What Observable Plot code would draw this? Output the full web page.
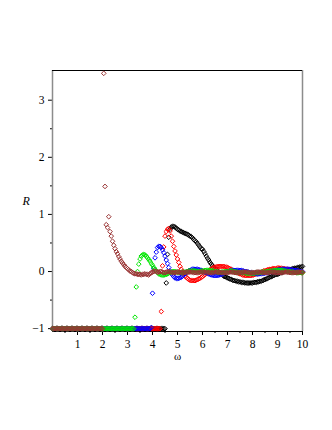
<!DOCTYPE html>
<html><head><meta charset="utf-8">
<script src="https://cdn.jsdelivr.net/npm/d3@7"></script>
<script src="https://cdn.jsdelivr.net/npm/@observablehq/plot@0.6"></script>
<style>body{margin:0;background:#fff}#chart{width:332px;height:430px}</style>
</head><body><div id="chart"></div>
<script>
const omega = [
0,0.05,0.1,0.15,0.2,0.25,0.3,0.35,0.4,0.45,
0.5,0.55,0.6,0.65,0.7,0.75,0.8,0.85,0.9,0.95,
1,1.05,1.1,1.15,1.2,1.25,1.3,1.35,1.4,1.45,
1.5,1.55,1.6,1.65,1.7,1.75,1.8,1.85,1.9,1.95,
2,2.05,2.1,2.15,2.2,2.25,2.3,2.35,2.4,2.45,
2.5,2.55,2.6,2.65,2.7,2.75,2.8,2.85,2.9,2.95,
3,3.05,3.1,3.15,3.2,3.25,3.3,3.35,3.4,3.45,
3.5,3.55,3.6,3.65,3.7,3.75,3.8,3.85,3.9,3.95,
4,4.05,4.1,4.15,4.2,4.25,4.3,4.35,4.4,4.45,
4.5,4.55,4.6,4.65,4.7,4.75,4.8,4.85,4.9,4.95,
5,5.05,5.1,5.15,5.2,5.25,5.3,5.35,5.4,5.45,
5.5,5.55,5.6,5.65,5.7,5.75,5.8,5.85,5.9,5.95,
6,6.05,6.1,6.15,6.2,6.25,6.3,6.35,6.4,6.45,
6.5,6.55,6.6,6.65,6.7,6.75,6.8,6.85,6.9,6.95,
7,7.05,7.1,7.15,7.2,7.25,7.3,7.35,7.4,7.45,
7.5,7.55,7.6,7.65,7.7,7.75,7.8,7.85,7.9,7.95,
8,8.05,8.1,8.15,8.2,8.25,8.3,8.35,8.4,8.45,
8.5,8.55,8.6,8.65,8.7,8.75,8.8,8.85,8.9,8.95,
9,9.05,9.1,9.15,9.2,9.25,9.3,9.35,9.4,9.45,
9.5,9.55,9.6,9.65,9.7,9.75,9.8,9.85,9.9,9.95,
10];

const rBrown = [
-1,-1,-1,-1,-1,-1,-1,-1,-1,-1,
-1,-1,-1,-1,-1,-1,-1,-1,-1,-1,
-1,-1,-1,-1,-1,-1,-1,-1,-1,-1,
-1,-1,-1,-1,-1,-1,-1,-1,-1,-1,
-1,3.47,1.49,0.82,0.77,0.96,0.70,0.62,0.53,0.46,
0.40,0.35,0.31,0.26,0.22,0.18,0.15,0.12,0.09,0.07,
0.05,0.03,0.01,0.00,-0.02,-0.03,-0.04,-0.04,-0.05,-0.05,
-0.05,-0.06,-0.05,-0.05,-0.04,-0.05,-0.05,-0.06,-0.04,-0.02,
-0.01,0.00,0.01,0.00,-0.01,-0.01,0.00,0.00,-0.01,-0.02,
-0.02,-0.01,0.00,0.00,-0.01,-0.01,-0.02,-0.02,-0.02,-0.01,
-0.01,-0.01,-0.01,-0.02,-0.02,-0.02,-0.02,-0.01,-0.01,-0.01,
-0.01,-0.01,-0.01,-0.02,-0.02,-0.02,-0.02,-0.02,-0.01,-0.01,
-0.01,-0.01,-0.01,-0.01,-0.02,-0.02,-0.02,-0.02,-0.02,-0.01,
-0.01,-0.01,-0.01,-0.01,-0.01,-0.02,-0.02,-0.02,-0.02,-0.02,
-0.02,-0.01,-0.01,-0.01,-0.01,-0.01,-0.02,-0.02,-0.02,-0.02,
-0.02,-0.02,-0.01,-0.01,-0.01,-0.01,-0.01,-0.02,-0.02,-0.02,
-0.02,-0.02,-0.02,-0.01,-0.01,-0.01,-0.01,-0.01,-0.02,-0.02,
-0.02,-0.02,-0.02,-0.02,-0.01,-0.01,-0.01,-0.01,-0.01,-0.02,
-0.02,-0.02,-0.02,-0.02,-0.02,-0.01,-0.01,-0.01,-0.01,-0.01,
-0.02,-0.02,-0.02,-0.02,-0.02,-0.02,-0.01,-0.01,-0.01,-0.01,
-0.01];

const rGreen = [
-1,-1,-1,-1,-1,-1,-1,-1,-1,-1,
-1,-1,-1,-1,-1,-1,-1,-1,-1,-1,
-1,-1,-1,-1,-1,-1,-1,-1,-1,-1,
-1,-1,-1,-1,-1,-1,-1,-1,-1,-1,
-1,-1,-1,-1,-1,-1,-1,-1,-1,-1,
-1,-1,-1,-1,-1,-1,-1,-1,-1,-1,
-1,-1,-1,-1,-1,-1,-0.80,-0.27,0.00,0.13,
0.22,0.27,0.29,0.30,0.29,0.27,0.24,0.21,0.18,0.14,
0.11,0.07,0.04,0.01,-0.02,-0.04,-0.05,-0.06,-0.06,-0.06,
-0.06,-0.05,-0.04,-0.03,-0.02,-0.01,0.00,0.00,0.00,-0.01,
-0.01,-0.02,-0.02,-0.02,-0.02,-0.01,-0.01,0.00,0.00,0.01,
0.01,0.01,0.01,0.01,0.01,0.01,0.00,0.00,0.00,0.01,
0.01,0.01,0.02,0.02,0.02,0.02,0.02,0.01,0.01,0.01,
0.00,0.00,-0.01,-0.01,-0.01,-0.01,-0.01,-0.01,0.00,0.00,
0.00,0.00,0.01,0.01,0.01,0.00,0.00,-0.01,-0.01,-0.02,
-0.02,-0.02,-0.02,-0.02,-0.02,-0.03,-0.03,-0.03,-0.03,-0.03,
-0.03,-0.03,-0.03,-0.02,-0.02,-0.02,-0.02,-0.01,-0.01,-0.01,
-0.01,0.00,0.00,0.00,0.01,0.01,0.01,0.01,0.02,0.02,
0.02,0.02,0.02,0.02,0.02,0.01,0.01,0.01,0.00,0.00,
0.00,-0.01,-0.01,-0.01,-0.02,-0.02,-0.02,-0.02,-0.02,-0.02,
-0.02];

const rBlue = [
-1,-1,-1,-1,-1,-1,-1,-1,-1,-1,
-1,-1,-1,-1,-1,-1,-1,-1,-1,-1,
-1,-1,-1,-1,-1,-1,-1,-1,-1,-1,
-1,-1,-1,-1,-1,-1,-1,-1,-1,-1,
-1,-1,-1,-1,-1,-1,-1,-1,-1,-1,
-1,-1,-1,-1,-1,-1,-1,-1,-1,-1,
-1,-1,-1,-1,-1,-1,-1,-1,-1,-1,
-1,-1,-1,-1,-1,-1,-1,-1,-1,-0.98,
-0.38,0.05,0.24,0.34,0.42,0.44,0.44,0.42,0.38,0.33,
0.27,0.20,0.14,0.07,0.01,-0.03,-0.06,-0.09,-0.11,-0.12,
-0.12,-0.12,-0.11,-0.10,-0.08,-0.06,-0.04,-0.02,0.00,0.01,
0.02,0.03,0.04,0.04,0.04,0.04,0.04,0.03,0.03,0.02,
0.01,0.00,-0.01,-0.02,-0.03,-0.04,-0.05,-0.06,-0.06,-0.07,
-0.07,-0.07,-0.07,-0.06,-0.06,-0.05,-0.04,-0.03,-0.02,-0.01,
0.00,0.00,0.01,0.01,0.02,0.02,0.02,0.02,0.02,0.02,
0.02,0.02,0.01,0.01,0.00,0.00,-0.01,-0.01,-0.02,-0.02,
-0.03,-0.03,-0.03,-0.04,-0.04,-0.04,-0.04,-0.04,-0.03,-0.03,
-0.03,-0.02,-0.02,-0.01,-0.01,0.00,0.00,0.01,0.01,0.02,
0.02,0.03,0.03,0.03,0.04,0.04,0.04,0.04,0.04,0.04,
0.03,0.03,0.03,0.02,0.02,0.02,0.01,0.01,0.00,0.00,
0.00];

const rRed = [
-1,-1,-1,-1,-1,-1,-1,-1,-1,-1,
-1,-1,-1,-1,-1,-1,-1,-1,-1,-1,
-1,-1,-1,-1,-1,-1,-1,-1,-1,-1,
-1,-1,-1,-1,-1,-1,-1,-1,-1,-1,
-1,-1,-1,-1,-1,-1,-1,-1,-1,-1,
-1,-1,-1,-1,-1,-1,-1,-1,-1,-1,
-1,-1,-1,-1,-1,-1,-1,-1,-1,-1,
-1,-1,-1,-1,-1,-1,-1,-1,-1,-1,
-1,-1,-1,-1,-1,-1,-1,-0.70,0.10,0.43,
0.62,0.70,0.74,0.75,0.71,0.62,0.53,0.44,0.36,0.29,
0.22,0.16,0.09,0.04,0.00,-0.04,-0.08,-0.10,-0.12,-0.14,
-0.15,-0.16,-0.16,-0.16,-0.16,-0.15,-0.14,-0.13,-0.12,-0.10,
-0.09,-0.07,-0.05,-0.03,-0.01,0.01,0.03,0.04,0.06,0.07,
0.08,0.08,0.09,0.09,0.09,0.09,0.09,0.09,0.08,0.08,
0.07,0.06,0.05,0.04,0.02,0.01,0.00,-0.01,-0.02,-0.03,
-0.04,-0.05,-0.06,-0.06,-0.07,-0.07,-0.07,-0.07,-0.07,-0.07,
-0.06,-0.06,-0.05,-0.04,-0.04,-0.03,-0.02,-0.01,0.00,0.01,
0.01,0.02,0.03,0.03,0.04,0.04,0.05,0.05,0.05,0.05,
0.06,0.06,0.06,0.06,0.05,0.05,0.05,0.04,0.04,0.03,
0.03,0.02,0.02,0.01,0.00,0.00,-0.01,-0.01,-0.02,-0.02,
-0.02];

const rBlack = [
-1,-1,-1,-1,-1,-1,-1,-1,-1,-1,
-1,-1,-1,-1,-1,-1,-1,-1,-1,-1,
-1,-1,-1,-1,-1,-1,-1,-1,-1,-1,
-1,-1,-1,-1,-1,-1,-1,-1,-1,-1,
-1,-1,-1,-1,-1,-1,-1,-1,-1,-1,
-1,-1,-1,-1,-1,-1,-1,-1,-1,-1,
-1,-1,-1,-1,-1,-1,-1,-1,-1,-1,
-1,-1,-1,-1,-1,-1,-1,-1,-1,-1,
-1,-1,-1,-1,-1,-1,-1,-1,-1,-1,
-1,-0.20,0.30,0.60,0.74,0.78,0.79,0.79,0.78,0.76,
0.74,0.73,0.71,0.70,0.69,0.68,0.67,0.66,0.65,0.64,
0.62,0.61,0.59,0.56,0.54,0.52,0.49,0.46,0.43,0.40,
0.39,0.35,0.31,0.27,0.23,0.20,0.16,0.13,0.10,0.07,
0.05,0.03,0.01,-0.01,-0.03,-0.05,-0.06,-0.08,-0.09,-0.10,
-0.11,-0.12,-0.13,-0.14,-0.15,-0.16,-0.16,-0.17,-0.17,-0.18,
-0.18,-0.19,-0.19,-0.19,-0.20,-0.20,-0.20,-0.20,-0.20,-0.20,
-0.20,-0.19,-0.19,-0.19,-0.18,-0.18,-0.17,-0.17,-0.16,-0.15,
-0.14,-0.13,-0.12,-0.11,-0.10,-0.09,-0.08,-0.07,-0.06,-0.05,
-0.05,-0.04,-0.03,-0.02,-0.01,0.00,0.01,0.02,0.02,0.03,
0.04,0.04,0.05,0.05,0.06,0.06,0.07,0.07,0.08,0.08,
0.09];

const seriesNames = ["s1","s2","s3","s4","s5"];
const seriesColors = ["#000000","#ff0000","#0000ff","#00e600","#993333"];
const seriesValues = [rBlack, rRed, rBlue, rGreen, rBrown];

const xTicks = [1,2,3,4,5,6,7,8,9,10];
const xMinor = [0.5,1.5,2.5,3.5,4.5,5.5,6.5,7.5,8.5,9.5];
const yTicks = [-1,0,1,2,3];
const yMinor = [-0.5,0.5,1.5,2.5];

const data = seriesNames.flatMap((name, k) =>
  seriesValues[k].map((r, i) => ({w: omega[i], R: r, s: name})));

const yMin = -1.05, yMax = 3.52;
const font = "'Liberation Serif','Times New Roman',serif";
const intFmt = d => String(d).replace("-", "\u2212");

const chart = Plot.plot({
  width: 332, height: 430,
  marginLeft: 52, marginRight: 30, marginTop: 70, marginBottom: 99,
  x: {domain: [0, 10]},
  y: {domain: [yMin, yMax]},
  color: {type: "ordinal", domain: seriesNames, range: seriesColors},
  style: {fontFamily: font, fontSize: "11px", background: "#fff", color: "#000"},
  marks: [
    Plot.axisX({ticks: xTicks, tickSize: 4, tickPadding: 4, tickFormat: d => String(d), label: null, fontSize: 11.5}),
    Plot.axisX({ticks: xMinor, tickSize: 2, text: null, label: null}),
    Plot.axisY({ticks: yTicks, tickSize: 4, tickPadding: 4, tickFormat: intFmt, label: null, fontSize: 11.5}),
    Plot.axisY({ticks: yMinor, tickSize: 2, text: null, label: null}),
    Plot.ruleX([0], {stroke: "#8c8c8c", strokeWidth: 1.5}),
    Plot.ruleX([10], {stroke: "#8c8c8c", strokeWidth: 1.5}),
    Plot.ruleY([yMax], {stroke: "#000", strokeWidth: 1}),
    Plot.ruleY([yMin], {stroke: "#000", strokeWidth: 1}),
    Plot.dot(data, {x: "w", y: "R", stroke: "s", symbol: "diamond2", r: 2.1, strokeWidth: 1}),
    Plot.text(["R"], {frameAnchor: "left", dx: -30, fontStyle: "italic", fontSize: 12, fontFamily: font}),
    Plot.text(["ω"], {frameAnchor: "bottom", dy: 28, fontSize: 11, fontFamily: font})
  ]
});
document.getElementById("chart").append(chart);
</script>
</body></html>
